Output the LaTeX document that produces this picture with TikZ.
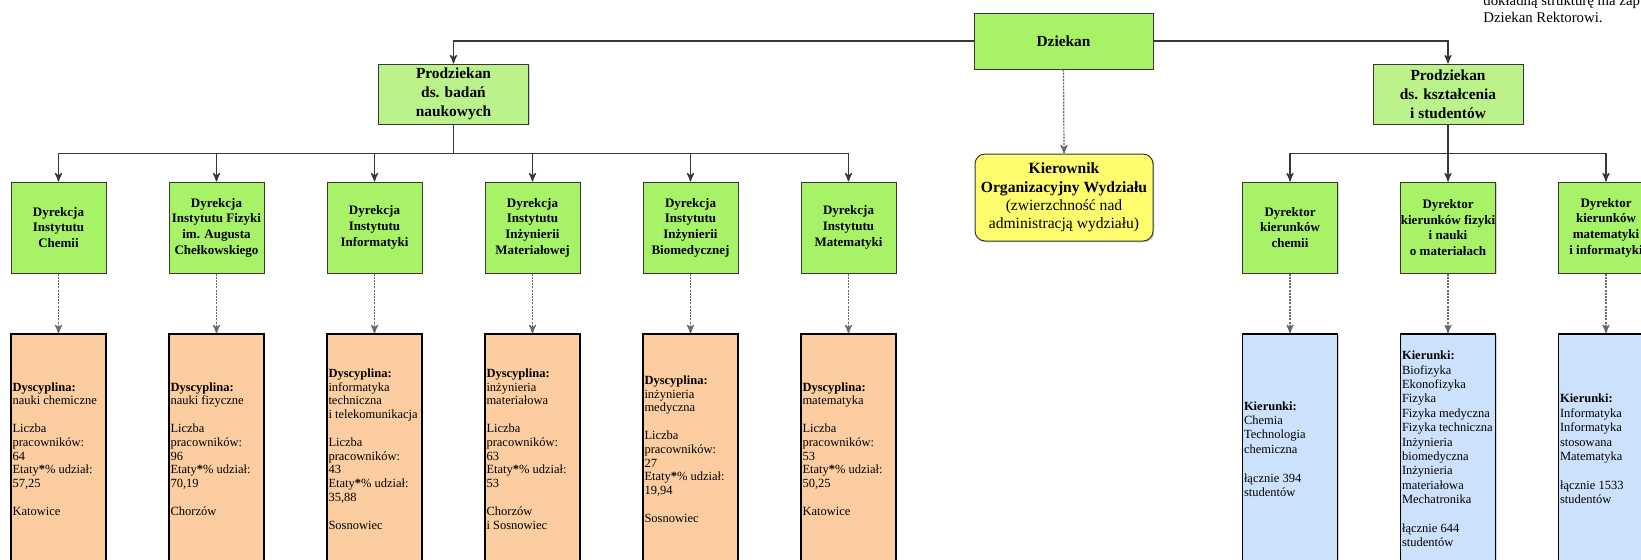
\documentclass[tikz,border=0pt]{standalone}
\usepackage{fontspec}
\setmainfont{Liberation Serif}
\usetikzlibrary{arrows}
\usetikzlibrary{shadows}
\definecolor{limeA}{RGB}{168,242,104}
\definecolor{limeB}{RGB}{188,242,140}
\definecolor{peach}{RGB}{252,205,160}
\definecolor{skyA}{RGB}{204,226,252}
\definecolor{lemon}{RGB}{255,252,110}
\definecolor{edgegray}{RGB}{55,55,55}
\newcommand{\dysc}[4]{\textbf{Dyscyplina:}\\#1\\[\baselineskip]Liczba\\pracowników:\\#2\\Etaty\textbf{*}\% udział:\\#3\\[\baselineskip]#4}
\tikzset{
 boxbase/.style={draw=edgegray, line width=0.5pt, drop shadow={shadow xshift=0.7pt, shadow yshift=-0.7pt, opacity=0.35}},
 glowny/.style={boxbase, fill=limeA, minimum width=89.5pt, minimum height=28pt, inner sep=0pt, font=\fontsize{7.7}{9.5}\selectfont\bfseries},
 prodz/.style={boxbase, fill=limeB, minimum width=75pt, minimum height=30pt, inner sep=0pt, align=center, font=\fontsize{7.7}{9.5}\selectfont\bfseries},
 dyrbox/.style={boxbase, fill=limeA, minimum width=47.5pt, minimum height=45.5pt, inner sep=0pt, align=center, font=\fontsize{6.5}{7.85}\selectfont\bfseries},
 infobox/.style={boxbase, draw=black, line width=0.7pt, minimum height=115pt, text width=46pt, inner xsep=0.75pt, inner ysep=0pt, align=flush left},
 dysbox/.style={infobox, fill=peach, font=\fontsize{6.25}{6.9}\selectfont},
 kierbox/.style={infobox, fill=skyA, font=\fontsize{6.25}{7.2}\selectfont},
 orgbox/.style={boxbase, fill=lemon, rounded corners=5pt, minimum width=89pt, minimum height=43.5pt, inner sep=0pt, align=center, font=\fontsize{7.8}{9.2}\selectfont},
 uwagi/.style={align=left, inner sep=0pt, font=\fontsize{7.4}{8.5}\selectfont},
 conn/.style={draw=edgegray, line width=0.6pt, ->, >=stealth'},
 dotlink/.style={draw=gray!80!black, line width=0.6pt, dash pattern=on 1pt off 0.6pt, ->, >=stealth'},
}
\begin{document}
\begin{tikzpicture}[x=0.5pt,y=-0.5pt]
\useasboundingbox (0,0) rectangle (1641,559);
\clip (0,0) rectangle (1641,559);
\node[glowny] (dziekan) at (1063.5,41) {Dziekan};
\node[prodz] (prodBad) at (453.5,94) {Prodziekan\\ds. badań\\naukowych};
\node[prodz] (prodKsz) at (1448,94) {Prodziekan\\ds. kształcenia\\i studentów};
\node[orgbox] (kierOrg) at (1064,197.5) {\textbf{Kierownik}\\\textbf{Organizacyjny Wydziału}\\(zwierzchność nad\\administracją wydziału)};
\node[uwagi, anchor=south west] (uwaga) at (1483,23) {dokładną strukturę ma zap\\Dziekan Rektorowi.};
\foreach \n/\t [evaluate=\n as \x using 158*\n-99.5] in {1/{Dyrekcja\\Instytutu\\Chemii}, 2/{Dyrekcja\\Instytutu Fizyki\\im. Augusta\\Chełkowskiego}, 3/{Dyrekcja\\Instytutu\\Informatyki}, 4/{Dyrekcja\\Instytutu\\Inżynierii\\Materiałowej}, 5/{Dyrekcja\\Instytutu\\Inżynierii\\Biomedycznej}, 6/{Dyrekcja\\Instytutu\\Matematyki}}
 \node[dyrbox] (dyr\n) at (\x,227.5) {\t};
\foreach \n/\a/\b/\c/\d [evaluate=\n as \x using 158*\n-99.5] in {1/{nauki chemiczne}/64/{57,25}/Katowice, 2/{nauki fizyczne}/96/{70,19}/Chorzów, 3/{informatyka\\techniczna\\i telekomunikacja}/43/{35,88}/Sosnowiec, 4/{inżynieria\\materiałowa}/63/53/{Chorzów\\i Sosnowiec}, 5/{inżynieria\\medyczna}/27/{19,94}/Sosnowiec, 6/matematyka/53/{50,25}/Katowice}
 \node[dysbox] (dys\n) at (\x,449) {\dysc{\a}{\b}{\c}{\d}};
\foreach \n/\t [evaluate=\n as \x using 158*\n+1132] in {1/{Dyrektor\\kierunków\\chemii}, 2/{Dyrektor\\kierunków fizyki\\i nauki\\o materiałach}, 3/{Dyrektor\\kierunków\\matematyki\\i informatyki}}
 \node[dyrbox] (dkr\n) at (\x,227.5) {\t};
\foreach \n/\t [evaluate=\n as \x using 158*\n+1132] in {1/{Chemia\\Technologia\\chemiczna\\[\baselineskip]łącznie 394\\studentów}, 2/{Biofizyka\\Ekonofizyka\\Fizyka\\Fizyka medyczna\\Fizyka techniczna\\Inżynieria\\biomedyczna\\Inżynieria\\materiałowa\\Mechatronika\\[\baselineskip]łącznie 644\\studentów}, 3/{Informatyka\\Informatyka\\stosowana\\Matematyka\\[\baselineskip]łącznie 1533\\studentów}}
 \node[kierbox] (kie\n) at (\x,449) {\textbf{Kierunki:}\\\t};
\draw[conn] (dziekan.west) -| (prodBad.north);
\draw[conn] (dziekan.east) -| (prodKsz.north);
\draw[dotlink] (dziekan.south) -- (kierOrg.north);
\foreach \n in {1,...,6} {
 \draw[conn] (prodBad.south) -- ++(0,29) -| (dyr\n.north);
 \draw[dotlink] (dyr\n.south) -- (dys\n.north);
}
\foreach \n in {1,2,3} {
 \draw[conn] (prodKsz.south) -- ++(0,29) -| (dkr\n.north);
 \draw[dotlink] (dkr\n.south) -- (kie\n.north);
}
\end{tikzpicture}
\end{document}
